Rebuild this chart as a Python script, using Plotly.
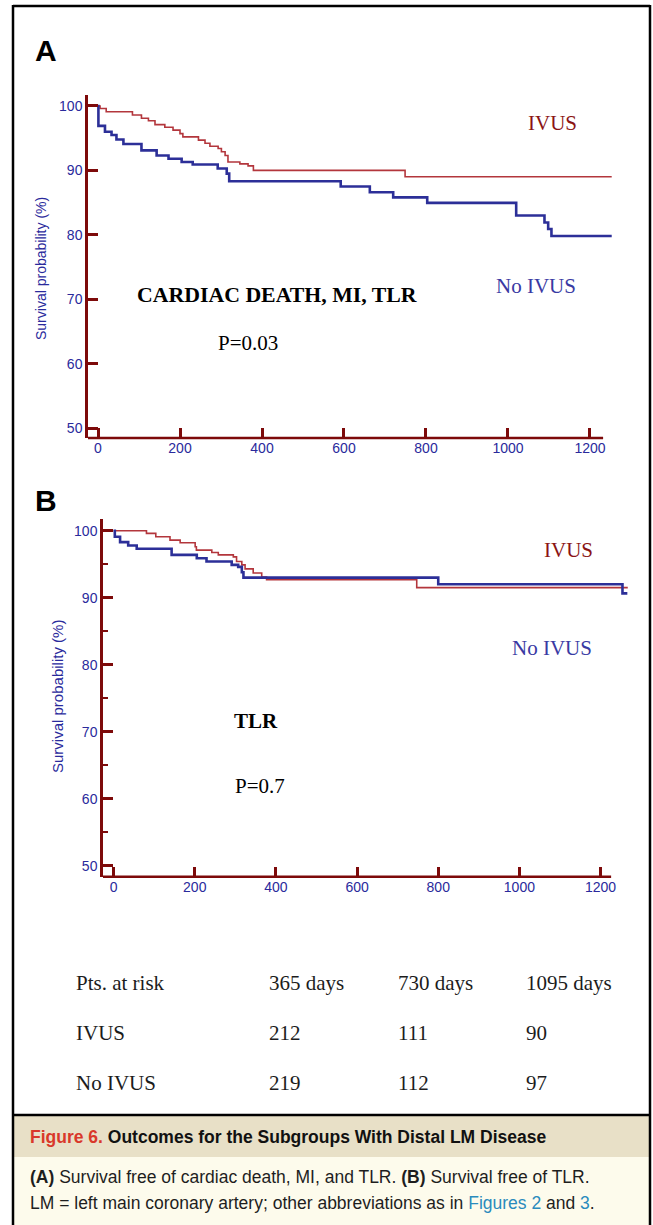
import plotly.graph_objects as go

# ---------------- data ----------------
# Panel A: cardiac death, MI, TLR
a_ivus_t = [0, 5, 20, 84, 106, 123, 139, 163, 183, 200, 207, 245, 261, 273, 293, 301, 310, 317, 346, 366, 379, 749, 1253]
a_ivus_s = [100, 99.6, 99.1, 98.6, 98.1, 97.7, 97.1, 96.7, 96.25, 95.7, 95.2, 94.7, 94.2, 93.75, 93.4, 92.9, 92.3, 91.3, 91.0, 90.7, 90.0, 89.0, 89.0]
a_noivus_t = [0, 1, 17, 33, 45, 62, 106, 143, 172, 204, 231, 292, 314, 320, 592, 663, 720, 803, 1020, 1089, 1098, 1106, 1253]
a_noivus_s = [100, 96.9, 96.0, 95.5, 94.8, 94.1, 93.1, 92.3, 91.8, 91.3, 90.9, 90.3, 89.5, 88.3, 87.5, 86.6, 85.8, 84.95, 83.0, 81.9, 80.9, 79.8, 79.8]

# Panel B: TLR
b_ivus_t = [0, 81, 104, 139, 164, 201, 204, 242, 258, 295, 303, 316, 324, 344, 365, 377, 747, 1267]
b_ivus_s = [100, 99.6, 99.1, 98.6, 98.2, 97.6, 97.1, 96.75, 96.4, 96.1, 95.4, 94.9, 94.3, 93.7, 93.1, 92.7, 91.5, 91.5]
b_noivus_t = [0, 3, 16, 36, 57, 143, 205, 229, 291, 307, 316, 320, 800, 1254, 1266]
b_noivus_s = [100, 99.1, 98.3, 97.8, 97.3, 96.4, 95.9, 95.4, 94.9, 94.6, 93.8, 93.0, 92.0, 90.65, 90.65]

x_ticks = [0, 200, 400, 600, 800, 1000, 1200]
y_ticks = [50, 60, 70, 80, 90, 100]

risk_header = ["Pts. at risk", "365 days", "730 days", "1095 days"]
risk_ivus = ["IVUS", "212", "111", "90"]
risk_noivus = ["No IVUS", "219", "112", "97"]

# ---------------- styles ----------------
W, H = 653, 1225
AXIS_RED = "#7d0a0a"
TICK_BLUE = "#2a2a9c"
IVUS_LINE = "#b3363c"
NOIVUS_LINE = "#2c2f98"
SANS = "Liberation Sans, Arial, sans-serif"
SERIF = "Liberation Serif, Times New Roman, serif"


def px(x):
    return x / W


def py(y):
    return 1 - y / H


fig = go.Figure()

fig.add_trace(go.Scatter(x=a_ivus_t, y=a_ivus_s, mode="lines", line=dict(color=IVUS_LINE, width=1.6, shape="hv"),
                         xaxis="x", yaxis="y", name="IVUS"))
fig.add_trace(go.Scatter(x=a_noivus_t, y=a_noivus_s, mode="lines", line=dict(color=NOIVUS_LINE, width=2.6, shape="hv"),
                         xaxis="x", yaxis="y", name="No IVUS"))
fig.add_trace(go.Scatter(x=b_ivus_t, y=b_ivus_s, mode="lines", line=dict(color=IVUS_LINE, width=1.6, shape="hv"),
                         xaxis="x2", yaxis="y2", name="IVUS"))
fig.add_trace(go.Scatter(x=b_noivus_t, y=b_noivus_s, mode="lines", line=dict(color=NOIVUS_LINE, width=2.6, shape="hv"),
                         xaxis="x2", yaxis="y2", name="No IVUS"))

common_x = dict(showgrid=False, zeroline=False, showline=False, ticks="inside", ticklen=10, tickwidth=2.5,
                tickcolor=AXIS_RED, tickvals=x_ticks, tickfont=dict(family=SANS, size=14, color=TICK_BLUE),
                fixedrange=True)
common_y = dict(showgrid=False, zeroline=False, showline=True, linecolor=AXIS_RED, linewidth=2.5,
                ticks="inside", ticklen=10, tickwidth=2.5, tickcolor=AXIS_RED, tickvals=y_ticks,
                tickfont=dict(family=SANS, size=14, color=TICK_BLUE), fixedrange=True)

fig.update_layout(
    width=W, height=H, margin=dict(l=0, r=0, t=0, b=0),
    paper_bgcolor="white", plot_bgcolor="rgba(0,0,0,0)", showlegend=False,
    xaxis=dict(common_x, domain=[px(88), px(612)], range=[-24.4, 1253.7], anchor="y"),
    yaxis=dict(common_y, domain=[py(438), py(95)], range=[48.45, 101.7], anchor="x"),
    xaxis2=dict(common_x, domain=[px(103), px(628)], range=[-26.1, 1267.6], anchor="y2"),
    yaxis2=dict(common_y, domain=[py(876.7), py(519)], range=[48.36, 101.75], anchor="x2",
                minor=dict(dtick=5, ticks="inside", ticklen=5, tickwidth=2, tickcolor=AXIS_RED)),
)

shapes = []
# x-axis lines (shorter than the plot area)
shapes.append(dict(type="line", xref="x", yref="y domain", x0=-24.4, x1=1232, y0=0, y1=0,
                   line=dict(color=AXIS_RED, width=2.5)))
shapes.append(dict(type="line", xref="x2", yref="y2 domain", x0=-26.1, x1=1226, y0=0, y1=0,
                   line=dict(color=AXIS_RED, width=2.5)))
# caption backgrounds
shapes.append(dict(type="rect", xref="paper", yref="paper", x0=px(13), x1=px(650), y0=py(1157), y1=py(1115),
                   fillcolor="#e8e0c7", line=dict(width=0), layer="below"))
shapes.append(dict(type="rect", xref="paper", yref="paper", x0=px(13), x1=px(650), y0=py(1226), y1=py(1157),
                   fillcolor="#fdfbec", line=dict(width=0), layer="below"))
# frame
for (x0, y0, x1, y1) in [(13, 6, 650, 6), (13, 5, 13, 1226), (650, 5, 650, 1226), (13, 1115, 650, 1115)]:
    shapes.append(dict(type="line", xref="paper", yref="paper", x0=px(x0), x1=px(x1), y0=py(y0), y1=py(y1),
                       line=dict(color="black", width=2.5)))
fig.update_layout(shapes=shapes)

ann = []


def text(x, y, s, size, color="black", family=SERIF, xanchor="center", angle=0, bold=False):
    if bold:
        s = "<b>" + s + "</b>"
    ann.append(dict(x=px(x), y=py(y), xref="paper", yref="paper", text=s, showarrow=False,
                    xanchor=xanchor, yanchor="middle", textangle=angle,
                    font=dict(family=family, size=size, color=color)))


# panel labels
text(46, 50, "A", 30, family=SANS, bold=True)
text(46, 500, "B", 30, family=SANS, bold=True)
# y-axis titles
text(41, 268, "Survival probability (%)", 14, color=TICK_BLUE, family=SANS, angle=-90)
text(57, 697, "Survival probability (%)", 15, color=TICK_BLUE, family=SANS, angle=-90)
# panel A labels
text(552, 123, "IVUS", 21, color="#8b1414")
text(536, 286, "No IVUS", 21, color="#3a3aa3")
text(277, 295, "CARDIAC DEATH, MI, TLR", 21.8, bold=True)
text(248, 343, "P=0.03", 21)
# panel B labels
text(568, 550, "IVUS", 21, color="#8b1414")
text(552, 648, "No IVUS", 21, color="#3a3aa3")
text(256, 721, "TLR", 21, bold=True)
text(260, 786, "P=0.7", 21)

# at-risk table
col_x = [74, 267, 396, 524]
for row_y, row in zip([983, 1033, 1083], [risk_header, risk_ivus, risk_noivus]):
    for cx, s in zip(col_x, row):
        text(cx, row_y, s, 21, color="#1c1c1c", xanchor="left")

# caption
CAP = "Liberation Sans Narrow, Arial Narrow, Liberation Sans, sans-serif"
text(28, 1137, "<span style='color:#d9382a'>Figure 6.</span> Outcomes for the Subgroups With Distal LM Disease",
     17.5, color="#111111", family=CAP, xanchor="left", bold=True)
text(28, 1177, "<b>(A)</b> Survival free of cardiac death, MI, and TLR. <b>(B)</b> Survival free of TLR.",
     17.5, color="#1e1e1e", family=CAP, xanchor="left")
text(28, 1203, "LM = left main coronary artery; other abbreviations as in "
               "<span style='color:#2a8bbd'>Figures 2</span> and <span style='color:#2a8bbd'>3</span>.",
     17.5, color="#1e1e1e", family=CAP, xanchor="left")

fig.update_layout(annotations=ann)

fig.write_html("out.html")
